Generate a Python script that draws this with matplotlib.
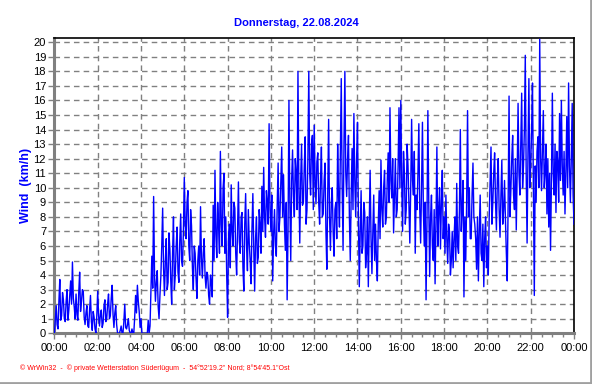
import matplotlib
matplotlib.use("Agg")
import matplotlib.pyplot as plt
from matplotlib.lines import Line2D
import numpy as np

plt.rcParams['font.family'] = ['Liberation Sans', 'DejaVu Sans']

title = "Donnerstag, 22.08.2024"
ylabel = "Wind  (km/h)"
footer = "\u00a9 WrWin32  -  \u00a9 private Wetterstation S\u00fcderl\u00fcgum  -  54\u00b052'19.2\" Nord; 8\u00b054'45.1\"Ost"
xtick_labels = ["00:00", "02:00", "04:00", "06:00", "08:00", "10:00", "12:00",
                "14:00", "16:00", "18:00", "20:00", "22:00", "00:00"]
ytick_values = list(range(0, 21))

# wind speed (km/h) at every full 5 minutes (00:00 ... 24:00)
wind_on_5min = [
    0.0, 1.9, 0.3, 3.7, 1.2, 2.3, 0.8, 3.0, 1.6, 3.6, 4.9, 1.8,
    2.7, 0.9, 4.2, 2.2, 2.9, 0.6, 1.9, 0.4, 2.6, 0.2, 1.1, 0.0,
    2.9, 0.5, 1.6, 0.7, 2.3, 1.0, 2.7, 1.2, 3.3, 0.4, 1.9, 0.0,
    0.0, 0.5, 0.0, 2.0, 0.3, 1.0, 0.0, 0.3, 0.0, 2.6, 3.3, 1.5,
    1.0, 0.0, 0.0, 0.0, 0.9, 0.5, 5.3, 9.4, 2.2, 4.3, 1.0, 3.9,
    8.6, 2.6, 6.5, 3.5, 5.8, 2.0, 8.0, 4.0, 7.3, 3.5, 8.2, 4.6,
    10.7, 6.5, 9.8, 5.0, 7.4, 3.0, 5.5, 2.4, 6.0, 8.7, 3.8, 6.5,
    3.1, 4.0, 2.0, 3.5, 8.8, 11.2, 5.2, 7.4, 12.5, 6.0, 11.0, 8.0,
    1.1, 7.5, 10.2, 6.0, 8.6, 4.0, 10.4, 5.5, 8.3, 2.9, 9.6, 4.3,
    6.2, 3.4, 9.6, 2.9, 8.0, 5.2, 7.5, 10.1, 11.4, 6.6, 9.0, 14.4,
    7.0, 3.6, 8.5, 5.3, 11.7, 8.0, 12.8, 10.9, 5.7, 2.3, 16.0, 5.0,
    12.6, 8.0, 11.0, 18.0, 6.2, 13.0, 9.0, 13.5, 8.5, 18.0, 9.5, 13.6,
    14.3, 8.9, 12.4, 7.5, 12.8, 8.2, 11.7, 4.4, 14.7, 5.7, 10.0, 5.3,
    9.0, 13.0, 7.3, 17.5, 5.7, 18.0, 9.4, 13.6, 5.0, 12.7, 15.1, 8.0,
    14.5, 3.2, 9.8, 6.0, 8.3, 5.5, 3.2, 11.2, 4.1, 9.5, 7.5, 3.6,
    9.8, 11.9, 7.3, 11.2, 8.0, 12.4, 15.5, 9.3, 6.9, 12.0, 8.5, 15.5,
    16.0, 7.0, 11.0, 8.5, 11.5, 6.2, 14.7, 9.5, 5.5, 8.5, 14.4, 6.2,
    14.5, 6.0, 2.3, 15.3, 3.9, 9.5, 5.0, 3.4, 12.8, 8.5, 5.8, 11.2,
    8.0, 9.5, 4.8, 7.0, 5.0, 4.5, 8.0, 10.3, 5.5, 14.0, 8.5, 2.5,
    5.0, 15.3, 10.0, 6.5, 11.7, 7.5, 4.4, 3.6, 9.5, 5.0, 3.2, 8.0,
    6.0, 8.0, 12.8, 9.0, 12.4, 7.1, 12.0, 6.6, 11.9, 8.5, 7.8, 3.6,
    16.3, 9.8, 13.6, 8.5, 7.1, 15.8, 9.5, 16.5, 11.5, 19.1, 6.2, 17.5,
    11.5, 17.2, 2.6, 9.0, 13.5, 20.2, 9.8, 15.3, 11.0, 8.2, 7.3, 5.7,
    16.5, 9.5, 8.3, 11.8, 15.1, 16.0, 9.5, 8.2, 14.9, 17.2, 9.0, 15.8,
    7.5,
]

wind_between = [
    1.0, 0.6, 2.2, 0.9, 2.8, 1.0, 2.2, 0.9, 2.6, 2.0, 2.4, 1.0,
    1.3, 2.8, 1.5, 3.0, 1.1, 1.4, 0.5, 1.6, 0.8, 1.5, 0.3, 1.2,
    1.2, 1.3, 0.4, 1.9, 0.8, 2.0, 1.0, 2.4, 1.3, 1.4, 0.6, 0.0,
    0.2, 0.0, 0.8, 0.4, 0.6, 0.2, 0.0, 0.0, 1.1, 1.4, 2.2, 0.4,
    0.0, 0.0, 0.0, 0.0, 0.0, 2.8, 3.1, 4.0, 3.5, 1.9, 2.6, 6.0,
    4.5, 5.0, 3.0, 6.9, 3.6, 5.5, 3.0, 6.0, 4.2, 6.4, 5.0, 7.0,
    7.5, 9.0, 6.0, 8.5, 4.5, 6.0, 3.8, 5.0, 4.0, 5.2, 5.5, 4.0,
    4.2, 2.6, 4.0, 2.5, 5.0, 6.8, 9.0, 5.5, 7.5, 10.0, 5.5, 4.0,
    6.5, 4.5, 7.0, 9.0, 5.5, 7.0, 6.3, 8.0, 4.5, 7.5, 6.0, 8.5,
    5.0, 7.2, 5.8, 6.5, 4.8, 8.5, 5.5, 7.0, 8.0, 9.8, 7.5, 8.5,
    9.5, 6.8, 6.0, 8.8, 7.0, 10.5, 8.0, 7.5, 9.0, 7.0, 9.0, 10.5,
    9.5, 12.0, 8.5, 10.0, 10.5, 8.8, 11.5, 7.5, 12.0, 11.0, 13.0, 8.5,
    10.5, 11.8, 9.0, 10.5, 8.0, 10.5, 7.0, 9.5, 8.0, 9.0, 7.0, 8.5,
    6.5, 9.5, 12.5, 10.0, 13.0, 11.0, 12.0, 8.0, 9.5, 8.5, 10.5, 12.0,
    8.0, 7.0, 5.5, 9.0, 4.5, 8.0, 7.5, 6.5, 7.0, 5.0, 5.0, 7.5,
    6.5, 8.5, 10.0, 7.5, 10.5, 9.0, 10.5, 12.0, 9.5, 8.0, 11.5, 10.0,
    10.5, 12.5, 7.5, 13.0, 9.0, 10.0, 10.5, 12.5, 9.5, 11.0, 8.5, 10.0,
    8.5, 9.0, 7.5, 9.0, 8.0, 6.0, 8.5, 7.5, 6.0, 10.0, 9.0, 6.5,
    5.5, 6.5, 7.5, 4.0, 7.0, 6.5, 5.0, 6.0, 8.5, 7.0, 10.5, 8.0,
    9.0, 8.0, 6.5, 9.5, 8.0, 6.5, 8.0, 7.0, 5.5, 7.5, 6.5, 4.5,
    4.0, 10.5, 7.5, 11.0, 9.0, 10.5, 8.5, 9.5, 7.5, 10.5, 5.5, 9.0,
    8.0, 12.0, 9.5, 12.0, 11.0, 11.0, 13.0, 10.0, 14.0, 11.0, 12.5, 10.0,
    14.0, 10.0, 11.5, 12.5, 10.0, 12.0, 12.5, 10.0, 13.0, 12.0, 11.0, 10.5,
    11.0, 13.0, 12.5, 9.0, 10.5, 11.5, 12.5, 11.0, 10.0, 11.5, 12.0, 9.5,
]

# merge both readings into one time-ordered series
wind_kmh = []
for i in range(len(wind_between)):
    wind_kmh.append(wind_on_5min[i])
    wind_kmh.append(wind_between[i])
wind_kmh.append(wind_on_5min[-1])
hours = np.arange(len(wind_kmh)) * 2.5 / 60.0

W, H = 592, 384
fig = plt.figure(figsize=(W / 100, H / 100), dpi=100)
fig.patch.set_facecolor("white")

left, right, bottom, top = 54.4, 574.0, 333.3, 38.3
ax = fig.add_axes([left / W, 1 - bottom / H, (right - left) / W, (bottom - top) / H])
ax.plot(hours, wind_kmh, color="#0000FF", linewidth=1.0, zorder=3)

ax.set_xlim(0, 24)
ax.set_ylim(0, 20.27)
ax.set_xticks(np.arange(0, 25, 2))
ax.set_xticklabels(xtick_labels)
ax.set_xticks(np.arange(0, 24.01, 0.5), minor=True)
ax.set_yticks(ytick_values)
ax.set_yticklabels([str(v) for v in ytick_values])

ax.grid(True, which="major", color="#808080", linestyle=(0, (4, 3)), linewidth=1.0, zorder=1)
ax.tick_params(axis="both", which="both", colors="#808080", labelcolor="black",
               labelsize=8, direction="out", width=1)
ax.tick_params(axis="x", which="major", length=4, pad=3)
ax.tick_params(axis="x", which="minor", length=3)
ax.tick_params(axis="y", which="major", length=4, pad=2)

for s in ("left", "bottom"):
    ax.spines[s].set_color("#808080")
    ax.spines[s].set_linewidth(2.2)
for s in ("top", "right"):
    ax.spines[s].set_color("black")
    ax.spines[s].set_linewidth(1.2)

fig.text(0.5, 1 - 23 / H, title, color="#0000FF", fontsize=8, fontweight="bold",
         ha="center", va="center")
fig.text(26 / W, 1 - 185 / H, ylabel, color="#0000FF", fontsize=9, fontweight="bold",
         ha="center", va="center", rotation=90)
fig.text(20 / W, 1 - 368 / H, footer, color="#FF0000", fontsize=5,
         ha="left", va="center")

# outer gray frame lines (right and bottom)
fig.add_artist(Line2D([0, 1], [1.5 / H, 1.5 / H], transform=fig.transFigure,
                      color="#A0A0A0", linewidth=2))
fig.add_artist(Line2D([1 - 1.5 / W, 1 - 1.5 / W], [0, 1], transform=fig.transFigure,
                      color="#A0A0A0", linewidth=2))

fig.savefig("out.png", dpi=100, facecolor="white")
